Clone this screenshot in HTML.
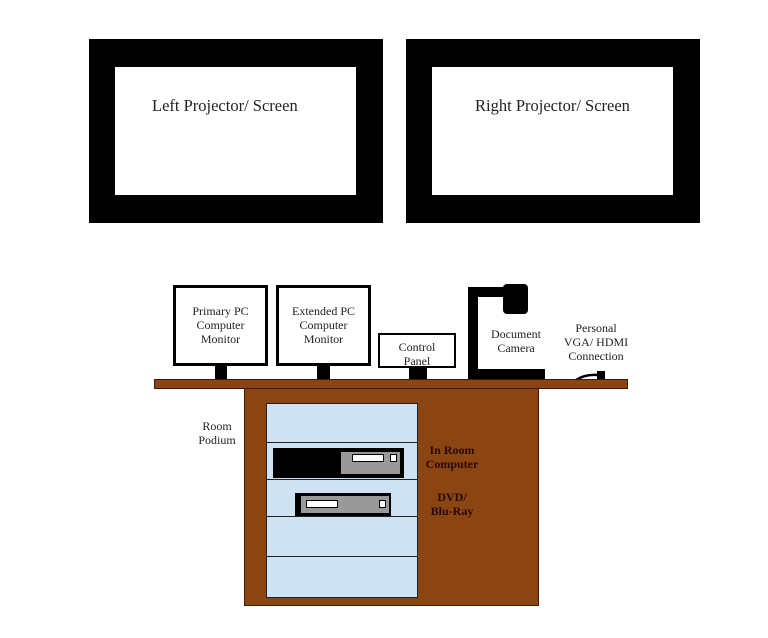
<!DOCTYPE html>
<html><head><style>
body{margin:0;background:#fff;}
.a{position:absolute;}
.t{position:absolute;font-family:"Liberation Serif",serif;text-align:center;color:#222;line-height:14px;font-size:12px;}
</style></head><body>
<div style="position:relative;width:768px;height:638px;overflow:hidden;">
<div class="a" style="left:89px;top:39px;width:294px;height:184px;background:#000"></div>
<div class="a" style="left:115px;top:67px;width:241px;height:128px;background:#fff"></div>
<div class="t" style="left:115px;top:97px;width:260px;font-size:16.5px;line-height:18px;text-align:left;padding-left:37px;box-sizing:border-box">Left Projector/ Screen</div>
<div class="a" style="left:406px;top:39px;width:294px;height:184px;background:#000"></div>
<div class="a" style="left:432px;top:67px;width:241px;height:128px;background:#fff"></div>
<div class="t" style="left:432px;top:97px;width:241px;font-size:16.5px;line-height:18px">Right Projector/ Screen</div>

<div class="a" style="left:173px;top:285px;width:89px;height:75px;border:3px solid #000;background:#fff"></div>
<div class="a" style="left:215px;top:366px;width:12px;height:13px;background:#000"></div>
<div class="t" style="left:173px;top:304px;width:95px">Primary PC<br>Computer<br>Monitor</div>
<div class="a" style="left:276px;top:285px;width:89px;height:75px;border:3px solid #000;background:#fff"></div>
<div class="a" style="left:317px;top:366px;width:13px;height:13px;background:#000"></div>
<div class="t" style="left:276px;top:304px;width:95px">Extended PC<br>Computer<br>Monitor</div>
<div class="a" style="left:378px;top:333px;width:74px;height:31px;border:2px solid #000;background:#fff"></div>
<div class="a" style="left:409px;top:368px;width:18px;height:11px;background:#000"></div>
<div class="t" style="left:378px;top:340px;width:78px">Control<br>Panel</div>

<div class="a" style="left:468px;top:287px;width:10px;height:92px;background:#000"></div>
<div class="a" style="left:468px;top:287px;width:40px;height:10px;background:#000"></div>
<div class="a" style="left:503px;top:284px;width:25px;height:30px;background:#000;border-radius:4px"></div>
<div class="a" style="left:468px;top:369px;width:77px;height:10px;background:#000"></div>
<div class="t" style="left:480px;top:327px;width:72px">Document<br>Camera</div>
<div class="t" style="left:558px;top:321px;width:76px">Personal<br>VGA/ HDMI<br>Connection</div>
<svg class="a" style="left:570px;top:365px" width="40" height="20"><path d="M6 15 Q15 9 28 10" stroke="#000" stroke-width="2.5" fill="none"/><rect x="27" y="6" width="8" height="8" fill="#000"/></svg>

<div class="a" style="left:154px;top:379px;width:472px;height:8px;background:#8b4513;border:1px solid #3a1c05"></div>
<div class="a" style="left:244px;top:389px;width:293px;height:216px;background:#8b4513;border:1px solid #3a1c05;border-top:none"></div>
<div class="a" style="left:266px;top:403px;width:150px;height:193px;background:#cfe2f3;border:1px solid #222"></div>
<div class="a" style="left:266px;top:442px;width:151px;height:1px;background:#222"></div>
<div class="a" style="left:266px;top:479px;width:151px;height:1px;background:#222"></div>
<div class="a" style="left:266px;top:516px;width:151px;height:1px;background:#222"></div>
<div class="a" style="left:266px;top:556px;width:151px;height:1px;background:#222"></div>
<div class="a" style="left:273px;top:448px;width:131px;height:30px;background:#000"></div>
<div class="a" style="left:341px;top:452px;width:59px;height:22px;background:#999"></div>
<div class="a" style="left:352px;top:454px;width:30px;height:6px;background:#fff;border:1px solid #000"></div>
<div class="a" style="left:390px;top:454px;width:5px;height:6px;background:#fff;border:1px solid #000"></div>
<div class="a" style="left:295px;top:493px;width:96px;height:23px;background:#000"></div>
<div class="a" style="left:301px;top:496px;width:88px;height:17px;background:#999"></div>
<div class="a" style="left:306px;top:500px;width:30px;height:6px;background:#fff;border:1px solid #000"></div>
<div class="a" style="left:379px;top:500px;width:5px;height:6px;background:#fff;border:1px solid #000"></div>
<div class="t" style="left:413px;top:443px;width:78px;font-weight:bold;color:#2a0a00">In Room<br>Computer</div>
<div class="t" style="left:413px;top:490px;width:78px;font-weight:bold;color:#2a0a00">DVD/<br>Blu-Ray</div>
<div class="t" style="left:185px;top:419px;width:64px">Room<br>Podium</div>
</div>
</body></html>
